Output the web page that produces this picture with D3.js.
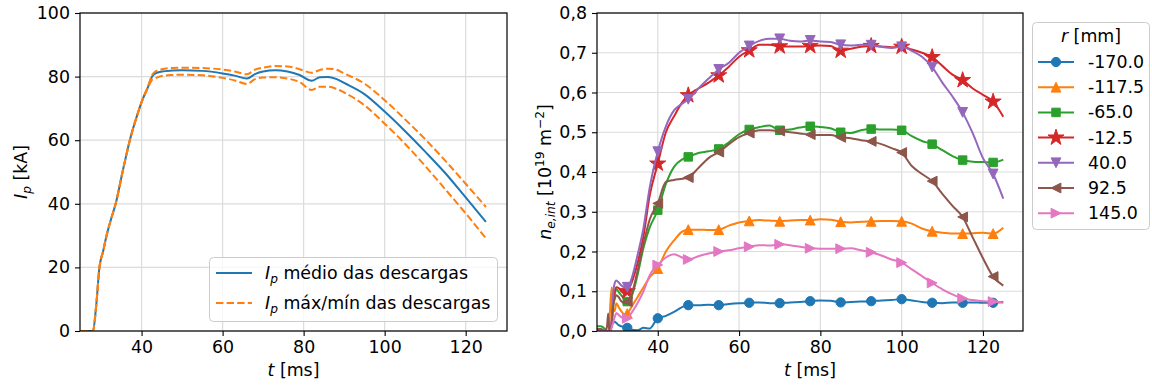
<!DOCTYPE html>
<html>
<head>
<meta charset="utf-8">
<script src="https://cdn.jsdelivr.net/npm/d3@7"></script>
<style>
  html, body { margin: 0; padding: 0; background: #fff; }
  svg { display: block; font-family: "DejaVu Sans", sans-serif; }
</style>
</head>
<body>
<svg id="fig" width="1152" height="387"></svg>
<script>
// ---------- plasma current (left panel) ----------
const ipTime = [25, 28, 28.8, 29.6, 30.5, 31.3, 32.4, 33.6, 35.3, 37.1, 38.8, 40, 41.6, 42.6, 43.4,
  45, 47.5, 50, 55, 60, 63, 66, 68, 70, 73, 76, 79, 82, 84, 86, 88, 90, 95, 100, 105, 110, 115, 120, 125];
const ipMean = [0, 0, 8, 20, 25, 29.7, 34.9, 40, 50, 60, 67.4, 72, 76.8, 80, 81,
  81.6, 81.9, 82, 81.8, 81, 80.3, 79.4, 80.8, 81.6, 82, 81.6, 80.5, 78.7, 79.8, 79.9, 79.3, 78, 74.5, 69, 62.9, 56.4, 49.6, 42, 34.3];
const ipMax = [0, 0, 8, 20, 25, 29.7, 34.9, 40, 50, 60, 67.4, 72, 77, 80.5, 81.6,
  82.3, 82.7, 82.8, 82.7, 82.2, 81.6, 80.7, 82.2, 82.8, 83.3, 83.2, 82.3, 81.2, 82.1, 82.5, 82.2, 81, 77.8, 72.6, 66.6, 60.3, 53.5, 46.3, 39];
const ipMin = [0, 0, 8, 20, 25, 29.7, 34.9, 40, 50, 60, 67.4, 72, 76.5, 79, 79.5,
  80.2, 80.5, 80.6, 80.4, 79.6, 78.8, 77.7, 79.2, 79.7, 79.8, 79.4, 78.3, 75.8, 76.8, 76.8, 76.2, 75, 71, 65.2, 58.9, 51.9, 44.5, 37, 29.1];
const ipTicksX = [40, 60, 80, 100, 120];
const ipTicksY = [0, 20, 40, 60, 80, 100];

// ---------- line-integrated density (right panel) ----------
const neTime = [25, 26, 27, 27.5, 27.8, 28.1, 28.4, 28.7, 29, 29.4, 29.8, 30.4, 31, 31.8, 32.5, 33.5, 35, 36.5, 38, 40,
  42, 44, 46, 47.5, 50, 52.5, 55, 57.5, 60, 62.5, 65, 67.5, 70, 72.5, 75, 77.5, 80, 82.5, 85, 87.5,
  90, 92.5, 95, 97.5, 100, 102.5, 105, 107.5, 110, 112.5, 115, 117.5, 120, 122.5, 125];
const radii = ["-170.0", "-117.5", "-65.0", "-12.5", "40.0", "92.5", "145.0"];
const neR170 = [0, 0, 0, 0, 0, 0, 0.005, 0.015, 0.02, 0.023, 0.02, 0.015, 0.012, 0.01, 0.008, 0.003, 0.002, 0.008, 0.006, 0.032,
  0.038, 0.048, 0.06, 0.065, 0.065, 0.066, 0.065, 0.068, 0.07, 0.071, 0.072, 0.07, 0.07, 0.072, 0.073, 0.075, 0.077, 0.076, 0.072, 0.073,
  0.074, 0.075, 0.077, 0.078, 0.08, 0.077, 0.073, 0.071, 0.07, 0.072, 0.071, 0.072, 0.071, 0.071, 0.073];
const neR117 = [0, 0, 0, 0, 0, 0.02, 0.08, 0.11, 0.06, 0.05, 0.07, 0.06, 0.05, 0.042, 0.044, 0.06, 0.085, 0.11, 0.135, 0.157,
  0.2, 0.228, 0.25, 0.255, 0.255, 0.254, 0.255, 0.265, 0.273, 0.277, 0.279, 0.278, 0.276, 0.278, 0.279, 0.279, 0.281, 0.28, 0.275, 0.273,
  0.275, 0.276, 0.277, 0.277, 0.276, 0.27, 0.258, 0.251, 0.247, 0.245, 0.245, 0.246, 0.247, 0.245, 0.26];
const neR65 = [0.012, 0.012, 0.005, 0, 0, 0, 0, 0.02, 0.06, 0.09, 0.105, 0.098, 0.09, 0.08, 0.074, 0.085, 0.14, 0.21, 0.26, 0.304,
  0.37, 0.413, 0.432, 0.438, 0.448, 0.452, 0.458, 0.475, 0.495, 0.507, 0.513, 0.517, 0.505, 0.507, 0.512, 0.515, 0.513, 0.51, 0.5, 0.498,
  0.505, 0.508, 0.507, 0.507, 0.505, 0.49, 0.478, 0.47, 0.455, 0.44, 0.43, 0.426, 0.425, 0.424, 0.431];
const neR12 = [0, 0, 0, 0, 0, 0, 0, 0.03, 0.08, 0.1, 0.11, 0.108, 0.1, 0.095, 0.1, 0.12, 0.17, 0.24, 0.34, 0.421,
  0.5, 0.54, 0.575, 0.593, 0.61, 0.625, 0.643, 0.665, 0.69, 0.706, 0.72, 0.72, 0.716, 0.716, 0.716, 0.717, 0.718, 0.717, 0.705, 0.71,
  0.715, 0.717, 0.716, 0.714, 0.715, 0.708, 0.7, 0.689, 0.667, 0.645, 0.631, 0.61, 0.594, 0.577, 0.539];
const neR40 = [0, 0, 0, 0, 0, 0, 0, 0.03, 0.09, 0.12, 0.127, 0.122, 0.115, 0.11, 0.11, 0.13, 0.19, 0.26, 0.36, 0.451,
  0.515, 0.555, 0.572, 0.583, 0.61, 0.635, 0.658, 0.675, 0.7, 0.717, 0.73, 0.735, 0.735, 0.73, 0.728, 0.731, 0.728, 0.727, 0.72, 0.718,
  0.72, 0.719, 0.715, 0.712, 0.715, 0.705, 0.69, 0.664, 0.625, 0.59, 0.55, 0.497, 0.435, 0.395, 0.333];
const neR92 = [0.005, 0.005, 0, 0.01, 0.044, 0, 0, 0.02, 0.06, 0.08, 0.09, 0.085, 0.075, 0.07, 0.074, 0.09, 0.15, 0.22, 0.28, 0.321,
  0.375, 0.38, 0.383, 0.386, 0.41, 0.435, 0.45, 0.47, 0.488, 0.498, 0.505, 0.505, 0.503, 0.5, 0.497, 0.494, 0.493, 0.493, 0.487, 0.485,
  0.48, 0.477, 0.47, 0.46, 0.449, 0.415, 0.395, 0.377, 0.345, 0.315, 0.287, 0.235, 0.183, 0.137, 0.114];
const neR145 = [0, 0, 0, 0, 0, 0, 0, 0.01, 0.02, 0.035, 0.045, 0.04, 0.035, 0.033, 0.032, 0.045, 0.07, 0.1, 0.14, 0.166,
  0.185, 0.193, 0.185, 0.18, 0.188, 0.195, 0.2, 0.203, 0.208, 0.212, 0.216, 0.215, 0.218, 0.216, 0.212, 0.208, 0.207, 0.207, 0.207, 0.208,
  0.203, 0.198, 0.19, 0.18, 0.172, 0.155, 0.138, 0.121, 0.105, 0.092, 0.082, 0.078, 0.075, 0.074, 0.071];
const markerTimes = [32.5, 40, 47.5, 55, 62.5, 70, 77.5, 85, 92.5, 100, 107.5, 115, 122.5];
const neTicksX = [40, 60, 80, 100, 120];
const neTicksY = [0, 0.1, 0.2, 0.3, 0.4, 0.5, 0.6, 0.7, 0.8];

const neSeries = [neR170, neR117, neR65, neR12, neR40, neR92, neR145];
const colors = ["#1f77b4", "#ff7f0e", "#2ca02c", "#d62728", "#9467bd", "#8c564b", "#e377c2"];
const markerKinds = ["circle", "up", "square", "star", "down", "left", "right"];

// ---------- shared styling ----------
const FS = 17.4;
const gridColor = "#dcdcdc";
const svg = d3.select("#fig");
const commaLocale = d3.formatLocale({decimal: ",", thousands: ".", grouping: [3], currency: ["", ""]});
const fmtComma = commaLocale.format(".1f");

function markerPath(kind) {
  const h = 4.9;
  switch (kind) {
    case "circle": return d3.symbol(d3.symbolCircle, 68)();
    case "square": return d3.symbol(d3.symbolSquare, 72)();
    case "star": return d3.symbol(d3.symbolStar, 80)();
    case "up": return `M0,${-h}L${h},${h}L${-h},${h}Z`;
    case "down": return `M0,${h}L${h},${-h}L${-h},${-h}Z`;
    case "left": return `M${-h},0L${h},${-h}L${h},${h}Z`;
    case "right": return `M${h},0L${-h},${-h}L${-h},${h}Z`;
  }
}

function drawFrame(g, x, y, xTicks, yTicks, yFmt, w, h) {
  // grid
  g.append("g").selectAll("line.gx").data(xTicks).join("line")
    .attr("x1", d => x(d)).attr("x2", d => x(d)).attr("y1", 0).attr("y2", h)
    .attr("stroke", gridColor).attr("stroke-width", 1.2);
  g.append("g").selectAll("line.gy").data(yTicks).join("line")
    .attr("x1", 0).attr("x2", w).attr("y1", d => y(d)).attr("y2", d => y(d))
    .attr("stroke", gridColor).attr("stroke-width", 1.2);
  // axes
  const ax = g.append("g").attr("transform", `translate(0,${h})`)
    .call(d3.axisBottom(x).tickValues(xTicks).tickSize(5).tickPadding(4.5).tickFormat(d3.format("d")));
  const ay = g.append("g")
    .call(d3.axisLeft(y).tickValues(yTicks).tickSize(5).tickPadding(5).tickFormat(yFmt));
  [ax, ay].forEach(a => {
    a.select(".domain").remove();
    a.selectAll(".tick line").attr("stroke", "#000").attr("stroke-width", 1.1);
    a.selectAll(".tick text").attr("font-size", FS).attr("font-family", "DejaVu Sans").attr("fill", "#000");
  });
}

function drawSpines(g, w, h) {
  g.append("rect").attr("x", 0).attr("y", 0).attr("width", w).attr("height", h)
    .attr("fill", "none").attr("stroke", "#000").attr("stroke-width", 1.2);
}

// ================= left panel =================
{
  const L = {x0: 80, x1: 507, y0: 13, y1: 331};
  const w = L.x1 - L.x0, h = L.y1 - L.y0;
  const g = svg.append("g").attr("transform", `translate(${L.x0},${L.y0})`);
  const x = d3.scaleLinear().domain([24.8, 130.2]).range([0, w]);
  const y = d3.scaleLinear().domain([0, 100]).range([h, 0]);
  drawFrame(g, x, y, ipTicksX, ipTicksY, d3.format("d"), w, h);

  g.append("clipPath").attr("id", "clipL").append("rect").attr("width", w).attr("height", h);
  const plot = g.append("g").attr("clip-path", "url(#clipL)");
  const line = d3.line().x((d, i) => x(ipTime[i])).y(d => y(d)).curve(d3.curveMonotoneX);
  plot.append("path").datum(ipMean).attr("d", line).attr("fill", "none")
    .attr("stroke", "#1f77b4").attr("stroke-width", 2);
  [ipMax, ipMin].forEach(s => {
    plot.append("path").datum(s).attr("d", line).attr("fill", "none")
      .attr("stroke", "#ff7f0e").attr("stroke-width", 2).attr("stroke-dasharray", "7.4,3.2");
  });
  drawSpines(g, w, h);

  // axis titles
  const xt = svg.append("text").attr("x", (L.x0 + L.x1) / 2).attr("y", 376)
    .attr("text-anchor", "middle").attr("font-size", FS);
  xt.append("tspan").attr("font-style", "italic").text("t");
  xt.append("tspan").text(" [ms]");
  const yt = svg.append("text").attr("transform", `translate(27,${(L.y0 + L.y1) / 2}) rotate(-90)`)
    .attr("text-anchor", "middle").attr("font-size", FS);
  yt.append("tspan").attr("font-style", "italic").text("I");
  yt.append("tspan").attr("font-style", "italic").attr("font-size", FS * 0.7).attr("dy", 4).text("p");
  yt.append("tspan").attr("dy", -4).text(" [kA]");

  // legend
  const lg = svg.append("g");
  lg.append("rect").attr("x", 209.5).attr("y", 257.5).attr("width", 288).attr("height", 64).attr("rx", 4)
    .attr("fill", "#fff").attr("fill-opacity", 0.8).attr("stroke", "#cccccc");
  const entries = [
    {label: " médio das descargas", dash: null, color: "#1f77b4"},
    {label: " máx/mín das descargas", dash: "7.4,3.2", color: "#ff7f0e"}
  ];
  entries.forEach((e, i) => {
    const cy = 273 + i * 30;
    lg.append("line").attr("x1", 216).attr("x2", 252).attr("y1", cy).attr("y2", cy)
      .attr("stroke", e.color).attr("stroke-width", 2).attr("stroke-dasharray", e.dash);
    const t = lg.append("text").attr("x", 265).attr("y", cy + 6).attr("font-size", FS);
    t.append("tspan").attr("font-style", "italic").text("I");
    t.append("tspan").attr("font-style", "italic").attr("font-size", FS * 0.7).attr("dy", 4).text("p");
    t.append("tspan").attr("dy", -4).text(e.label);
  });
}

// ================= right panel =================
{
  const R = {x0: 597, x1: 1023, y0: 13, y1: 331};
  const w = R.x1 - R.x0, h = R.y1 - R.y0;
  const g = svg.append("g").attr("transform", `translate(${R.x0},${R.y0})`);
  const x = d3.scaleLinear().domain([25.05, 129.85]).range([0, w]);
  const y = d3.scaleLinear().domain([0, 0.8]).range([h, 0]);
  drawFrame(g, x, y, neTicksX, neTicksY, fmtComma, w, h);

  g.append("clipPath").attr("id", "clipR").append("rect").attr("width", w).attr("height", h);
  const plot = g.append("g").attr("clip-path", "url(#clipR)");
  const line = d3.line().x((d, i) => x(neTime[i])).y(d => y(d)).curve(d3.curveMonotoneX);
  neSeries.forEach((s, k) => {
    const sg = plot.append("g");
    sg.append("path").datum(s).attr("d", line).attr("fill", "none")
      .attr("stroke", colors[k]).attr("stroke-width", 2);
    const pts = markerTimes.map(t => ({t, v: s[neTime.indexOf(t)]}));
    sg.selectAll("path.m").data(pts).join("path").attr("class", "m")
      .attr("transform", d => `translate(${x(d.t)},${y(d.v)})`)
      .attr("d", markerPath(markerKinds[k]))
      .attr("fill", colors[k]).attr("stroke", colors[k]).attr("stroke-width", 1);
  });
  drawSpines(g, w, h);

  const xt = svg.append("text").attr("x", (R.x0 + R.x1) / 2).attr("y", 376)
    .attr("text-anchor", "middle").attr("font-size", FS);
  xt.append("tspan").attr("font-style", "italic").text("t");
  xt.append("tspan").text(" [ms]");

  const yt = svg.append("text").attr("transform", `translate(551,${(R.y0 + R.y1) / 2}) rotate(-90)`)
    .attr("text-anchor", "middle").attr("font-size", FS);
  yt.append("tspan").attr("font-style", "italic").text("n");
  yt.append("tspan").attr("font-style", "italic").attr("font-size", FS * 0.7).attr("dy", 4).text("e,int");
  yt.append("tspan").attr("dy", -4).text(" [10");
  yt.append("tspan").attr("font-size", FS * 0.7).attr("dy", -7).text("19");
  yt.append("tspan").attr("dy", 7).text(" m");
  yt.append("tspan").attr("font-size", FS * 0.7).attr("dy", -7).text("\u22122");
  yt.append("tspan").attr("dy", 7).text("]");

  // legend
  const lg = svg.append("g");
  lg.append("rect").attr("x", 1032.5).attr("y", 22.5).attr("width", 117).attr("height", 207).attr("rx", 4)
    .attr("fill", "#fff").attr("fill-opacity", 0.8).attr("stroke", "#cccccc");
  const title = lg.append("text").attr("x", 1091).attr("y", 42).attr("text-anchor", "middle").attr("font-size", FS);
  title.append("tspan").attr("font-style", "italic").text("r");
  title.append("tspan").text(" [mm]");
  radii.forEach((r, k) => {
    const cy = 62 + k * 25.2;
    lg.append("line").attr("x1", 1038).attr("x2", 1074).attr("y1", cy).attr("y2", cy)
      .attr("stroke", colors[k]).attr("stroke-width", 2);
    lg.append("path").attr("transform", `translate(1056,${cy})`).attr("d", markerPath(markerKinds[k]))
      .attr("fill", colors[k]).attr("stroke", colors[k]).attr("stroke-width", 1);
    lg.append("text").attr("x", 1088).attr("y", cy + 6).attr("font-size", FS).text(r);
  });
}
</script>
</body>
</html>
